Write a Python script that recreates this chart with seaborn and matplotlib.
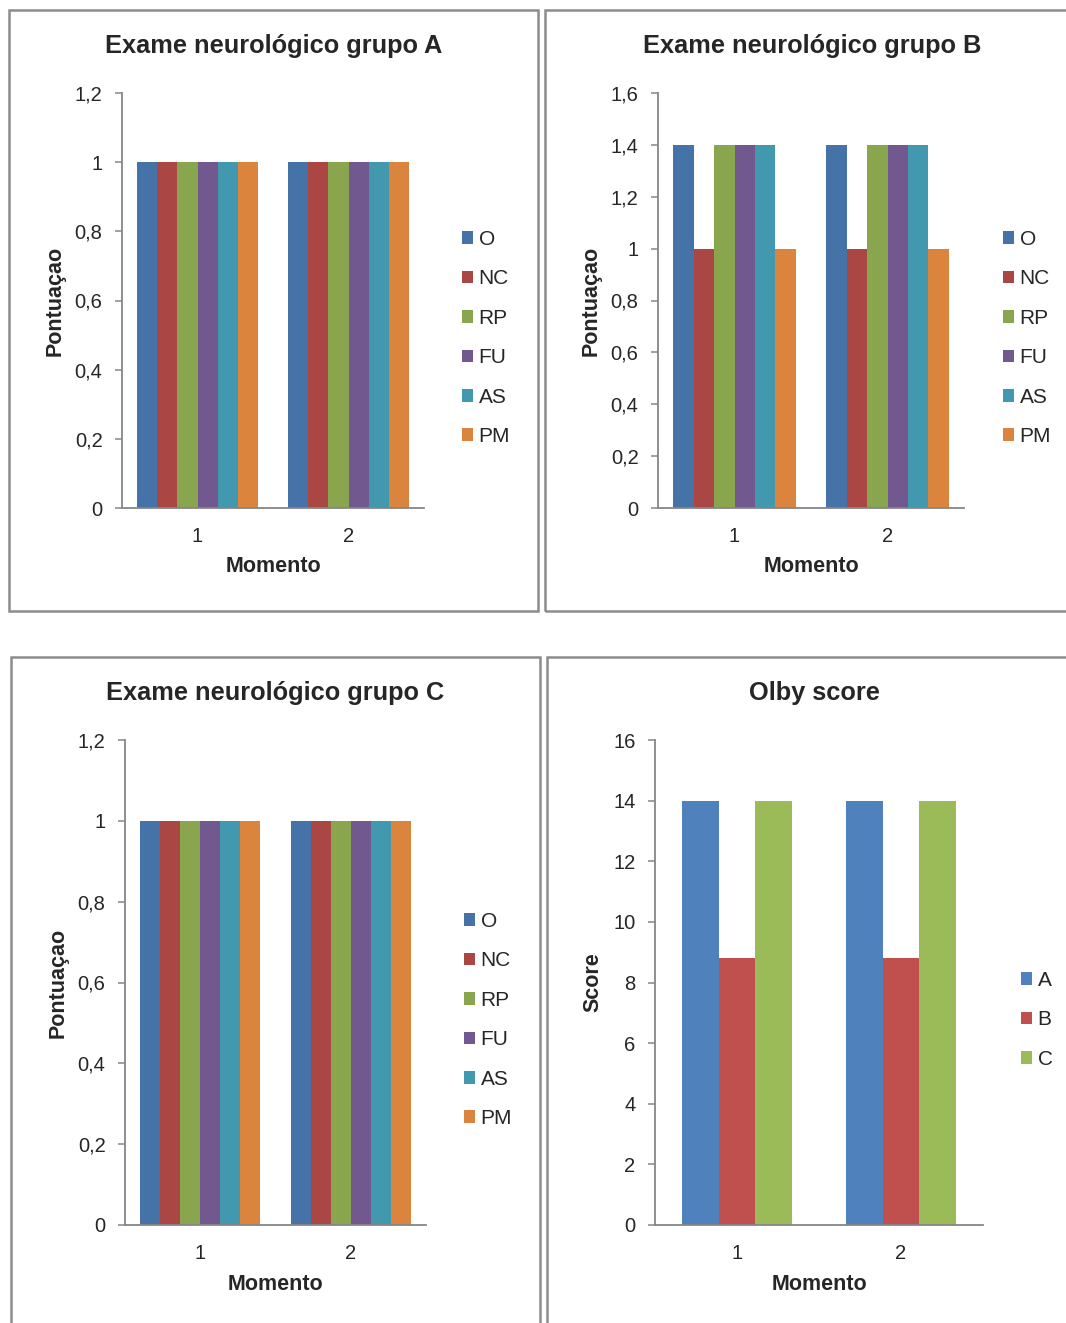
import numpy as np
import pandas as pd
import matplotlib
matplotlib.use("Agg")
import matplotlib.pyplot as plt
import seaborn as sns
from matplotlib.patches import Rectangle, Patch
from matplotlib.ticker import FuncFormatter, FixedLocator

# ---- data ----
momentos = ["1", "2"]
exam_series = ["O", "NC", "RP", "FU", "AS", "PM"]
grupo_a = [[1, 1, 1, 1, 1, 1], [1, 1, 1, 1, 1, 1]]
grupo_b = [[1.4, 1, 1.4, 1.4, 1.4, 1], [1.4, 1, 1.4, 1.4, 1.4, 1]]
grupo_c = [[1, 1, 1, 1, 1, 1], [1, 1, 1, 1, 1, 1]]
olby_series = ["A", "B", "C"]
olby_values = [[14, 8.8, 14], [14, 8.8, 14]]

exam_colors = ["#4572A7", "#AA4643", "#89A54E", "#71588F", "#4198AF", "#DB843D"]
olby_colors = ["#4F81BD", "#C0504D", "#9BBB59"]

sns.set_theme(style="white")
plt.rcParams["font.family"] = ["Liberation Sans", "DejaVu Sans"]

W, H = 1066, 1323
fig = plt.figure(figsize=(W / 100, H / 100), dpi=100)
fig.patch.set_facecolor("white")

SPINE = "#868686"


def px_axes(l, r, t, b):
    return fig.add_axes([l / W, 1 - b / H, (r - l) / W, (b - t) / H])


def frame(l, t, r, b):
    rect = Rectangle((l / W, 1 - b / H), (r - l) / W, (b - t) / H,
                     transform=fig.transFigure, fill=False,
                     edgecolor="#8c8c8c", linewidth=1.8, zorder=0)
    fig.add_artist(rect)


def to_long(values, series):
    rows = []
    for m, vals in zip(momentos, values):
        for s, v in zip(series, vals):
            rows.append({"Momento": m, "Serie": s, "Valor": v})
    return pd.DataFrame(rows)


def comma(v, pos):
    s = f"{v:.1f}".rstrip("0").rstrip(".")
    return s.replace(".", ",")


def panel(box, values, series, colors, ymax, ystep, width, title, title_xy,
          ylabel, ylabel_x, xlabel_y, legend_xy):
    ax = px_axes(*box)
    df = to_long(values, series)
    sns.barplot(data=df, x="Momento", y="Valor", hue="Serie",
                hue_order=series, order=momentos, palette=colors,
                width=width, saturation=1, linewidth=0, ax=ax, legend=False)
    ax.set_xlim(-0.5, 1.5)
    ax.set_ylim(0, ymax)
    ax.set_yticks(np.arange(0, ymax + ystep / 2, ystep))
    ax.yaxis.set_major_formatter(FuncFormatter(comma))
    ax.xaxis.set_minor_locator(FixedLocator([-0.5, 0.5, 1.5]))
    ax.tick_params(axis="x", which="major", length=0, pad=14, labelsize=14.5)
    ax.tick_params(axis="x", which="minor", length=5, width=1.1,
                   color=SPINE, direction="out")
    ax.tick_params(axis="y", length=5, width=1.1, color=SPINE,
                   direction="out", pad=9, labelsize=14.5, left=True)
    for side in ["top", "right"]:
        ax.spines[side].set_visible(False)
    for side in ["left", "bottom"]:
        ax.spines[side].set_color(SPINE)
        ax.spines[side].set_linewidth(1.3)
    ax.set_xlabel("")
    ax.set_ylabel("")
    ax.grid(False)
    ax.set_facecolor("white")

    fig.text(title_xy[0] / W, 1 - title_xy[1] / H, title, ha="center",
             va="center", fontsize=18.3, fontweight="bold")
    cx = (box[0] + box[1]) / 2
    cy = (box[2] + box[3]) / 2
    fig.text(ylabel_x / W, 1 - cy / H, ylabel, rotation=90, ha="center",
             va="center", fontsize=15.5, fontweight="bold")
    fig.text(cx / W, 1 - xlabel_y / H, "Momento", ha="center", va="center",
             fontsize=15.5, fontweight="bold")

    handles = [Patch(facecolor=c, edgecolor="none", label=s)
               for s, c in zip(series, colors)]
    fig.legend(handles=handles, loc="upper left",
               bbox_to_anchor=(legend_xy[0] / W, 1 - legend_xy[1] / H),
               frameon=False, fontsize=15, handlelength=0.55,
               handleheight=0.55, handletextpad=0.25, labelspacing=0.98,
               borderpad=0, borderaxespad=0)
    return ax


# panel frames
frame(9, 10, 538, 611)
frame(545, 10, 1075, 611)
frame(11, 657, 540, 1335)
frame(547, 657, 1075, 1335)

panel((122, 424, 93, 508), grupo_a, exam_series, exam_colors, 1.2, 0.2, 0.8,
      "Exame neurológico grupo A", (274, 46), "Pontuaçao", 55, 567, (462, 230))
panel((658, 964, 93, 508), grupo_b, exam_series, exam_colors, 1.6, 0.2, 0.8,
      "Exame neurológico grupo B", (812, 46), "Pontuaçao", 591, 567, (1003, 230))
panel((125, 426, 740, 1225), grupo_c, exam_series, exam_colors, 1.2, 0.2, 0.8,
      "Exame neurológico grupo C", (275, 693), "Pontuaçao", 58, 1284, (464, 912))
panel((655, 983, 740, 1225), olby_values, olby_series, olby_colors, 16, 2, 0.67,
      "Olby score", (814, 693), "Score", 593, 1284, (1021, 971))

fig.savefig("out.png", dpi=100, facecolor="white")
